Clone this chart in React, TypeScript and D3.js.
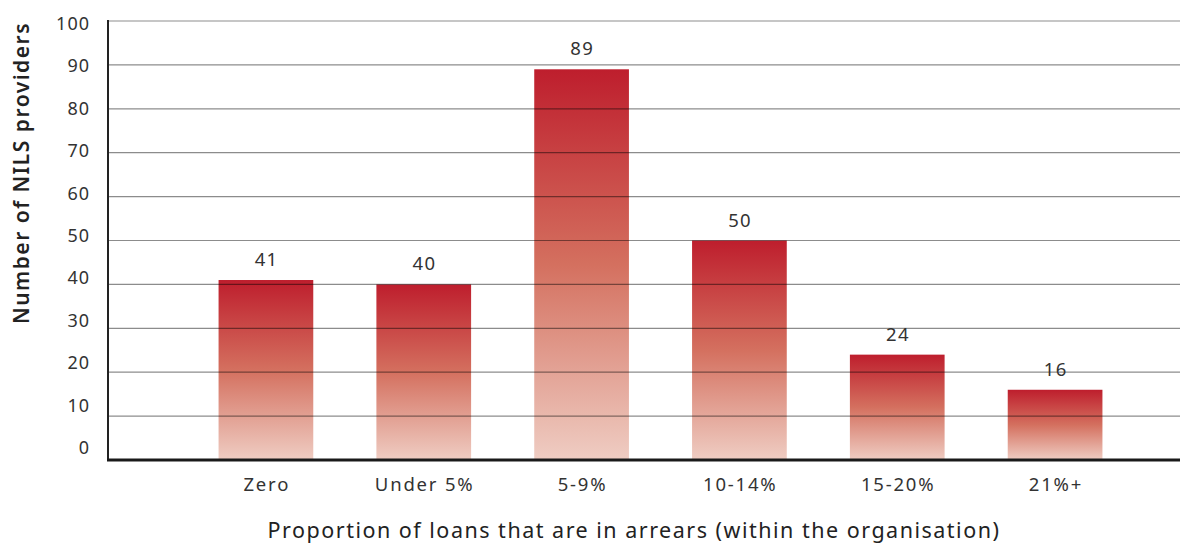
import React from "react";
import * as d3 from "d3";

const categories = ["Zero", "Under 5%", "5-9%", "10-14%", "15-20%", "21%+"];
const values = [41, 40, 89, 50, 24, 16];
const yTicks = [0, 10, 20, 30, 40, 50, 60, 70, 80, 90, 100];
const yTitle = "Number of NILS providers";
const xTitle = "Proportion of loans that are in arrears (within the organisation)";

const W = 1180;
const H = 544;
const FONT = "'Noto Sans', sans-serif";

export default function App() {
  const x = d3.scaleBand<string>().domain(categories).range([187, 1134]).paddingInner(0.4).paddingOuter(0.2);
  const y = d3.scaleLinear().domain([0, 100]).range([460, 21]);
  const yLab = d3.scaleLinear().domain([0, 100]).range([447, 23]);
  const axisX = 108;

  return (
    <svg
      width={W}
      height={H}
      style={{ position: "absolute", left: 0, top: 0, background: "#fff" }}
    >
      <defs>
        <linearGradient id="barGrad" x1="0" y1="0" x2="0" y2="1">
          <stop offset="0%" stopColor="#be1e2d" />
          <stop offset="50%" stopColor="#d4705f" />
          <stop offset="100%" stopColor="#efcdc3" />
        </linearGradient>
      </defs>
      {categories.map((c, i) => (
        <rect
          key={c}
          x={x(c)}
          y={y(values[i])}
          width={x.bandwidth()}
          height={y(0) - y(values[i])}
          fill="url(#barGrad)"
        />
      ))}
      {yTicks.filter((t) => t > 0).map((t) => (
        <line
          key={t}
          x1={axisX}
          x2={W}
          y1={y(t)}
          y2={y(t)}
          stroke="#000"
          strokeOpacity={0.45}
          strokeWidth={1.2}
        />
      ))}
      <line x1={axisX} x2={axisX} y1={y(100) - 1} y2={y(0)} stroke="#222" strokeWidth={2} />
      <line x1={axisX - 1} x2={W} y1={y(0)} y2={y(0)} stroke="#1a1a1a" strokeWidth={3} />
      {yTicks.map((t) => (
        <text
          key={t}
          x={90}
          y={yLab(t)}
          textAnchor="end"
          dominantBaseline="central"
          fontFamily={FONT}
          fontSize={18}
          letterSpacing={1}
          fill="#333"
        >
          {t}
        </text>
      ))}
      {categories.map((c, i) => (
        <text
          key={c}
          x={(x(c) as number) + x.bandwidth() / 2 + 0.7}
          y={y(values[i]) - 14}
          textAnchor="middle"
          fontFamily={FONT}
          fontSize={18.5}
          letterSpacing={1.4}
          fill="#333"
        >
          {values[i]}
        </text>
      ))}
      {categories.map((c) => (
        <text
          key={c}
          x={(x(c) as number) + x.bandwidth() / 2 + 0.9}
          y={491}
          textAnchor="middle"
          fontFamily={FONT}
          fontSize={18.5}
          letterSpacing={1.8}
          fill="#333"
        >
          {c}
        </text>
      ))}
      <text
        x={634}
        y={538}
        textAnchor="middle"
        fontFamily={FONT}
        fontSize={21.5}
        letterSpacing={1.5}
        fill="#222"
      >
        {xTitle}
      </text>
      <text
        transform={`translate(29, 173) rotate(-90)`}
        textAnchor="middle"
        fontFamily={FONT}
        fontSize={21}
        fontWeight={600}
        letterSpacing={1.5}
        fill="#222"
      >
        {yTitle}
      </text>
    </svg>
  );
}
